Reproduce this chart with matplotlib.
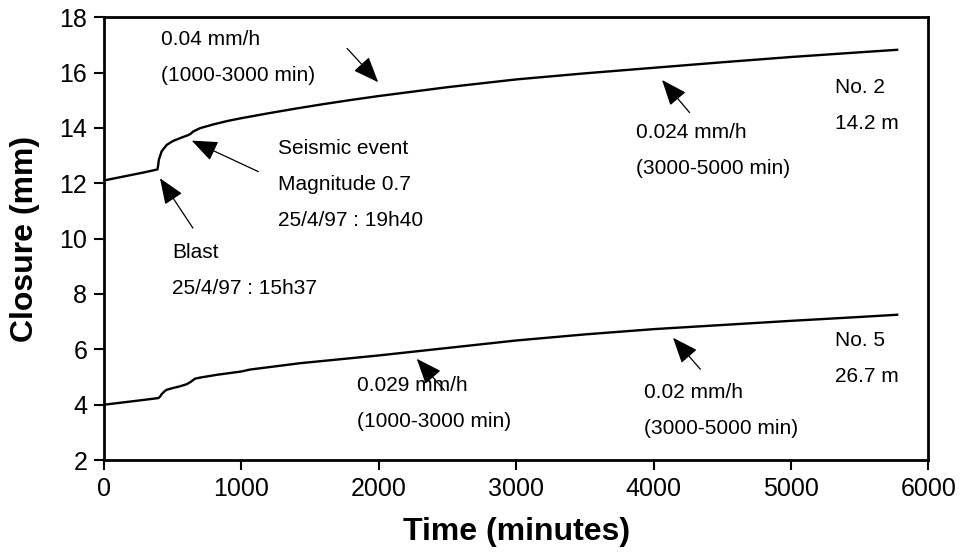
import numpy as np
import matplotlib
matplotlib.use('Agg')
import matplotlib.pyplot as plt

plt.rcParams['font.family'] = ['Liberation Sans', 'DejaVu Sans']

# Extensómetro No. 2 (14.2 m)
t_no2 = [0, 100, 200, 300, 390, 395, 400, 420, 456, 500, 560, 614, 630, 650, 700,
         800, 900, 1000, 1200, 1400, 1600, 1800, 2000, 2500, 3000, 3500, 4000,
         4500, 5000, 5500, 5773]
c_no2 = [12.1, 12.2, 12.3, 12.4, 12.5, 12.65, 12.85, 13.15, 13.38, 13.52, 13.64,
         13.74, 13.78, 13.87, 13.99, 14.13, 14.25, 14.35, 14.53, 14.7, 14.86,
         15.01, 15.15, 15.47, 15.75, 15.97, 16.17, 16.37, 16.56, 16.73, 16.82]

# Extensómetro No. 5 (26.7 m)
t_no5 = [0, 100, 200, 300, 396, 410, 420, 440, 457, 500, 550, 602, 630, 663, 700,
         821, 1000, 1063, 1428, 2000, 2500, 3000, 3500, 4000, 4500, 5000, 5500, 5773]
c_no5 = [4.0, 4.06, 4.12, 4.18, 4.24, 4.3, 4.38, 4.48, 4.54, 4.6, 4.66, 4.74, 4.82,
         4.94, 4.98, 5.08, 5.2, 5.27, 5.5, 5.78, 6.05, 6.32, 6.54, 6.73, 6.88, 7.03,
         7.17, 7.25]

x_ticks = [0, 1000, 2000, 3000, 4000, 5000, 6000]
y_ticks = [2, 4, 6, 8, 10, 12, 14, 16, 18]

fig = plt.figure(figsize=(9.62, 5.53), dpi=100)
ax = fig.add_axes([0.108, 0.168, 0.857, 0.801])

ax.plot(t_no2, c_no2, color='black', lw=1.7)
ax.plot(t_no5, c_no5, color='black', lw=1.7)

ax.set_xlim(0, 6000)
ax.set_ylim(2, 18)
ax.set_xticks(x_ticks)
ax.set_yticks(y_ticks)
ax.tick_params(direction='out', length=7, width=1.5, labelsize=18, pad=5)
for s in ax.spines.values():
    s.set_linewidth(2)

ax.set_xlabel('Time (minutes)', fontsize=23, fontweight='bold')
ax.set_ylabel('Closure (mm)', fontsize=23, fontweight='bold')
ax.xaxis.set_label_coords(0.5, -0.128)
ax.yaxis.set_label_coords(-0.078, 0.5)

# Textos
txt = dict(fontsize=15, va='center', ha='left', linespacing=2.15)
ax.text(415, 16.53, '0.04 mm/h\n(1000-3000 min)', **txt)
ax.text(1267, 11.95, 'Seismic event\nMagnitude 0.7\n25/4/97 : 19h40', **txt)
ax.text(495, 8.86, 'Blast\n25/4/97 : 15h37', **txt)
ax.text(3875, 13.17, '0.024 mm/h\n(3000-5000 min)', **txt)
ax.text(5324, 14.80, 'No. 2\n14.2 m', **txt)
ax.text(1843, 4.04, '0.029 mm/h\n(1000-3000 min)', **txt)
ax.text(3933, 3.79, '0.02 mm/h\n(3000-5000 min)', **txt)
ax.text(5324, 5.67, 'No. 5\n26.7 m', **txt)

# Flechas
arr = dict(arrowstyle='-|>,head_length=0.8,head_width=0.32', color='black',
           lw=0.9, mutation_scale=20, shrinkA=0, shrinkB=0)
for tip, tail in [((1996, 15.65), (1770, 16.87)),
                  ((639, 13.54), (1124, 12.42)),
                  ((408, 12.18), (648, 10.38)),
                  ((4062, 15.73), (4263, 14.55)),
                  ((2277, 5.66), (2478, 4.52)),
                  ((4142, 6.42), (4341, 5.28))]:
    ax.annotate('', xy=tip, xytext=tail, arrowprops=arr)

plt.savefig('out.png', dpi=100)
